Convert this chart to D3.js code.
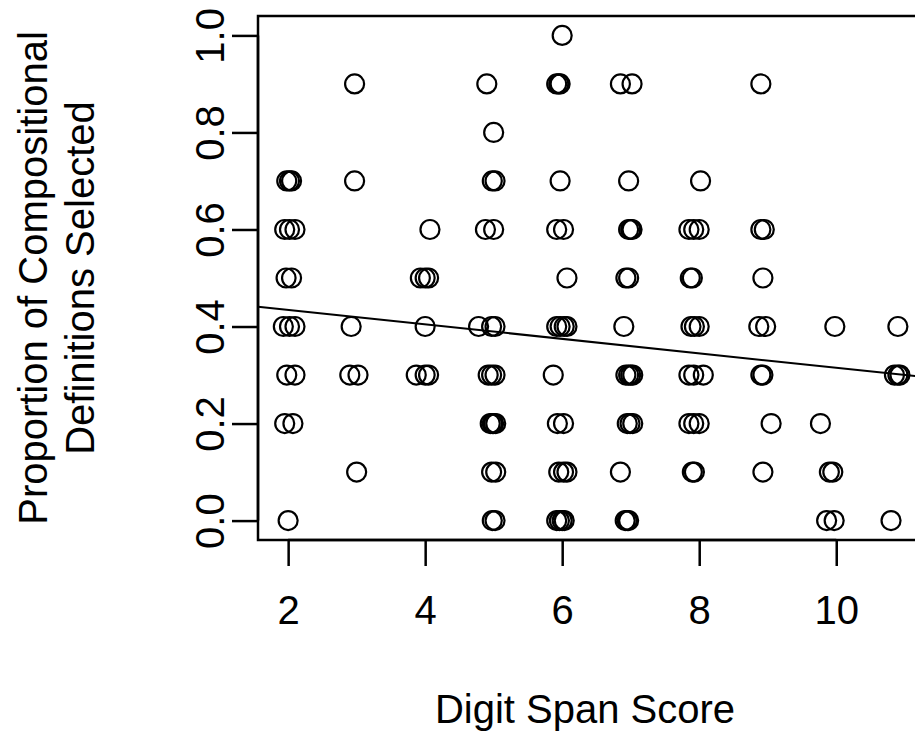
<!DOCTYPE html>
<html>
<head>
<meta charset="utf-8">
<script src="https://cdn.jsdelivr.net/npm/d3@7"></script>
<style>
  html, body { margin: 0; padding: 0; background: #fff; }
  svg { display: block; }
  text { font-family: "Liberation Sans", Arial, Helvetica, sans-serif; fill: #000; }
</style>
</head>
<body>
<svg id="chart" width="915" height="731"></svg>
<script>
// Jittered digit span scores, one array per proportion level (0.0 .. 1.0)
const span00 = [2.00, 4.98, 5.02, 5.92, 5.96, 6.00, 6.03, 6.92, 6.95, 6.97, 9.86, 9.97, 10.80];
const span01 = [3.00, 4.97, 5.03, 5.95, 6.02, 6.07, 6.85, 7.90, 7.93, 8.93, 9.90, 9.95];
const span02 = [1.95, 2.07, 4.95, 4.98, 5.00, 5.03, 5.93, 6.02, 6.95, 6.99, 7.03, 7.85, 7.92, 8.00, 9.05, 9.77];
const span03 = [1.98, 2.10, 2.90, 3.02, 3.87, 4.00, 4.05, 4.92, 4.97, 5.02, 5.87, 6.93, 6.97, 7.00, 7.03, 7.85, 7.92, 8.06, 8.90, 8.93, 10.85, 10.90, 10.93];
const span04 = [1.93, 2.02, 2.10, 2.92, 4.00, 4.78, 4.97, 5.02, 5.92, 5.97, 6.03, 6.07, 6.90, 7.88, 7.93, 8.00, 8.87, 8.97, 9.98, 10.90];
const span05 = [1.97, 2.05, 3.93, 4.00, 4.05, 6.07, 6.93, 6.97, 7.87, 7.90, 8.93];
const span06 = [1.95, 2.02, 2.10, 4.07, 4.88, 5.00, 5.92, 6.02, 6.97, 7.00, 7.02, 7.85, 7.92, 8.00, 8.90, 8.95];
const span07 = [1.98, 2.02, 2.05, 2.97, 4.98, 5.02, 5.97, 6.97, 8.02];
const span08 = [5.00];
const span09 = [2.97, 4.90, 5.92, 5.95, 5.97, 6.85, 7.02, 8.90];
const span10 = [6.00];

const proportionLevels = [0.0, 0.1, 0.2, 0.3, 0.4, 0.5, 0.6, 0.7, 0.8, 0.9, 1.0];
const spansByLevel = [span00, span01, span02, span03, span04, span05, span06, span07, span08, span09, span10];

// Axis ticks
const xTicks = [2, 4, 6, 8, 10];
const yTicks = [0.0, 0.2, 0.4, 0.6, 0.8, 1.0];
const xTickLabels = ["2", "4", "6", "8", "10"];
const yTickLabels = ["0.0", "0.2", "0.4", "0.6", "0.8", "1.0"];

// Fitted line: proportion = intercept + slope * span
const fitIntercept = 0.464;
const fitSlope = -0.0149;

const xTitle = "Digit Span Score";
const yTitleLines = ["Proportion of Compositional", "Definitions Selected"];

// Flatten into point records
const points = [];
proportionLevels.forEach((p, i) => {
  spansByLevel[i].forEach(s => points.push({ span: s, prop: p }));
});

const svg = d3.select("#chart");
const fontSize = 40;

const box = { left: 258, top: 16, right: 939, bottom: 540 };
const x = d3.scaleLinear().domain([1.56, 11.5]).range([box.left, box.right]);
const y = d3.scaleLinear().domain([-0.04, 1.04]).range([box.bottom, box.top]);

// Points
svg.append("g")
  .selectAll("circle")
  .data(points)
  .join("circle")
  .attr("cx", d => x(d.span))
  .attr("cy", d => y(d.prop))
  .attr("r", 9.5)
  .attr("fill", "none")
  .attr("stroke", "#000")
  .attr("stroke-width", 2.2);

// Fitted line across the plot region
const [x0, x1] = x.domain();
svg.append("line")
  .attr("x1", x(x0)).attr("y1", y(fitIntercept + fitSlope * x0))
  .attr("x2", x(x1)).attr("y2", y(fitIntercept + fitSlope * x1))
  .attr("stroke", "#000")
  .attr("stroke-width", 2);

// Plot box
svg.append("rect")
  .attr("x", box.left).attr("y", box.top)
  .attr("width", box.right - box.left)
  .attr("height", box.bottom - box.top)
  .attr("fill", "none")
  .attr("stroke", "#000")
  .attr("stroke-width", 2.5);

// X axis
const xAxis = d3.axisBottom(x)
  .tickValues(xTicks)
  .tickFormat((d, i) => xTickLabels[i])
  .tickSize(26)
  .tickPadding(30);
const gx = svg.append("g")
  .attr("transform", `translate(0,${box.bottom})`)
  .call(xAxis);
gx.select(".domain")
  .attr("d", `M${x(xTicks[0])},0H${x(xTicks[xTicks.length - 1])}`)
  .attr("stroke-width", 2.5);
gx.selectAll(".tick line").attr("stroke-width", 2.5);
gx.selectAll(".tick text")
  .attr("font-size", fontSize)
  .attr("font-family", "Liberation Sans, Arial, sans-serif");

// Y axis
const yAxis = d3.axisLeft(y)
  .tickValues(yTicks)
  .tickFormat((d, i) => yTickLabels[i])
  .tickSize(26);
const gy = svg.append("g")
  .attr("transform", `translate(${box.left},0)`)
  .call(yAxis);
gy.select(".domain")
  .attr("d", `M0,${y(yTicks[0])}V${y(yTicks[yTicks.length - 1])}`)
  .attr("stroke-width", 2.5);
gy.selectAll(".tick line").attr("stroke-width", 2.5);
gy.selectAll(".tick text")
  .attr("font-size", fontSize)
  .attr("font-family", "Liberation Sans, Arial, sans-serif")
  .attr("text-anchor", "middle")
  .attr("dy", null)
  .attr("x", null)
  .attr("transform", "translate(-48,0) rotate(-90)")
  .attr("dominant-baseline", "central");

// Axis titles
svg.append("text")
  .attr("x", 585)
  .attr("y", 723)
  .attr("text-anchor", "middle")
  .attr("font-size", fontSize)
  .text(xTitle);

svg.append("g")
  .attr("transform", `translate(0,${(box.top + box.bottom) / 2}) rotate(-90)`)
  .selectAll("text")
  .data(yTitleLines)
  .join("text")
  .attr("x", 0)
  .attr("y", (d, i) => 47 + i * 47)
  .attr("text-anchor", "middle")
  .attr("font-size", fontSize)
  .text(d => d);
</script>
</body>
</html>
